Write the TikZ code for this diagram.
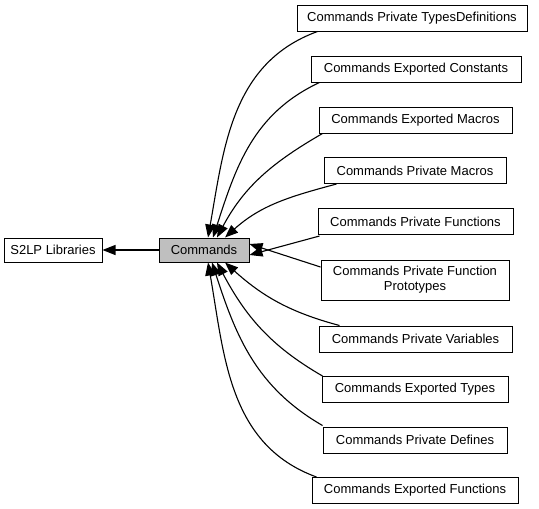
\documentclass[tikz,border=0pt]{standalone}
\usepackage{fontspec}
\setmainfont{Liberation Sans}
\usetikzlibrary{arrows.meta}
\begin{document}
\begin{tikzpicture}[x=1pt,y=-1pt,
  box/.style={draw, line width=1pt, inner sep=0pt, align=center, font=\fontsize{13}{15}\selectfont},
  edge/.style={line width=1.1pt, -{Triangle[length=13pt,width=10pt]}}]
\useasboundingbox (0,0) rectangle (539,509);
\node[box, minimum width=98, minimum height=24] (lib) at (53,250) {S2LP Libraries};
\node[box, minimum width=90, minimum height=24, fill={rgb,255:red,191;green,191;blue,191}] (cmd) at (204,250) {Commands};
\node[box, minimum width=230, minimum height=26] (tdef) at (412,18) {Commands Private TypesDefinitions};
\node[box, minimum width=210, minimum height=26] (econst) at (416,69) {Commands Exported Constants};
\node[box, minimum width=193, minimum height=26] (emac) at (415.5,120) {Commands Exported Macros};
\node[box, minimum width=182, minimum height=26] (pmac) at (415,170.5) {Commands Private Macros};
\node[box, minimum width=195, minimum height=26] (pfun) at (415.5,221.5) {Commands Private Functions};
\node[box, minimum width=188, minimum height=40] (pproto) at (415,280) {Commands Private Function\\Prototypes};
\node[box, minimum width=193, minimum height=26] (pvar) at (415.5,339) {Commands Private Variables};
\node[box, minimum width=186, minimum height=26] (etypes) at (415,389.5) {Commands Exported Types};
\node[box, minimum width=184, minimum height=26] (pdef) at (415,440) {Commands Private Defines};
\node[box, minimum width=206, minimum height=26] (efun) at (415,490.5) {Commands Exported Functions};
\draw[edge] (cmd) -- (lib);
\draw[edge] ([xshift=21]tdef.south west) to[out=200,in=80] ([xshift=4]cmd.north);
\draw[edge] ([xshift=9]econst.south west) to[out=205,in=72] ([xshift=9]cmd.north);
\draw[edge] ([xshift=4]emac.south west) to[out=210,in=62] ([xshift=13]cmd.north);
\draw[edge] ([xshift=13]pmac.south west) to[out=195,in=42] ([xshift=21]cmd.north);
\draw[edge] ([xshift=2,yshift=-1]pfun.south west) -- ([yshift=-5]cmd.east);
\draw[edge] ([yshift=13]pproto.west) -- ([yshift=6]cmd.east);
\draw[edge] ([xshift=21]pvar.north west) to[out=165,in=-42] ([xshift=21]cmd.south);
\draw[edge] ([xshift=1]etypes.north west) to[out=150,in=-62] ([xshift=13]cmd.south);
\draw[edge] ([xshift=0,yshift=1]pdef.north west) to[out=150,in=-72] ([xshift=8]cmd.south);
\draw[edge] ([xshift=5]efun.north west) to[out=160,in=-80] ([xshift=4]cmd.south);
\end{tikzpicture}
\end{document}
